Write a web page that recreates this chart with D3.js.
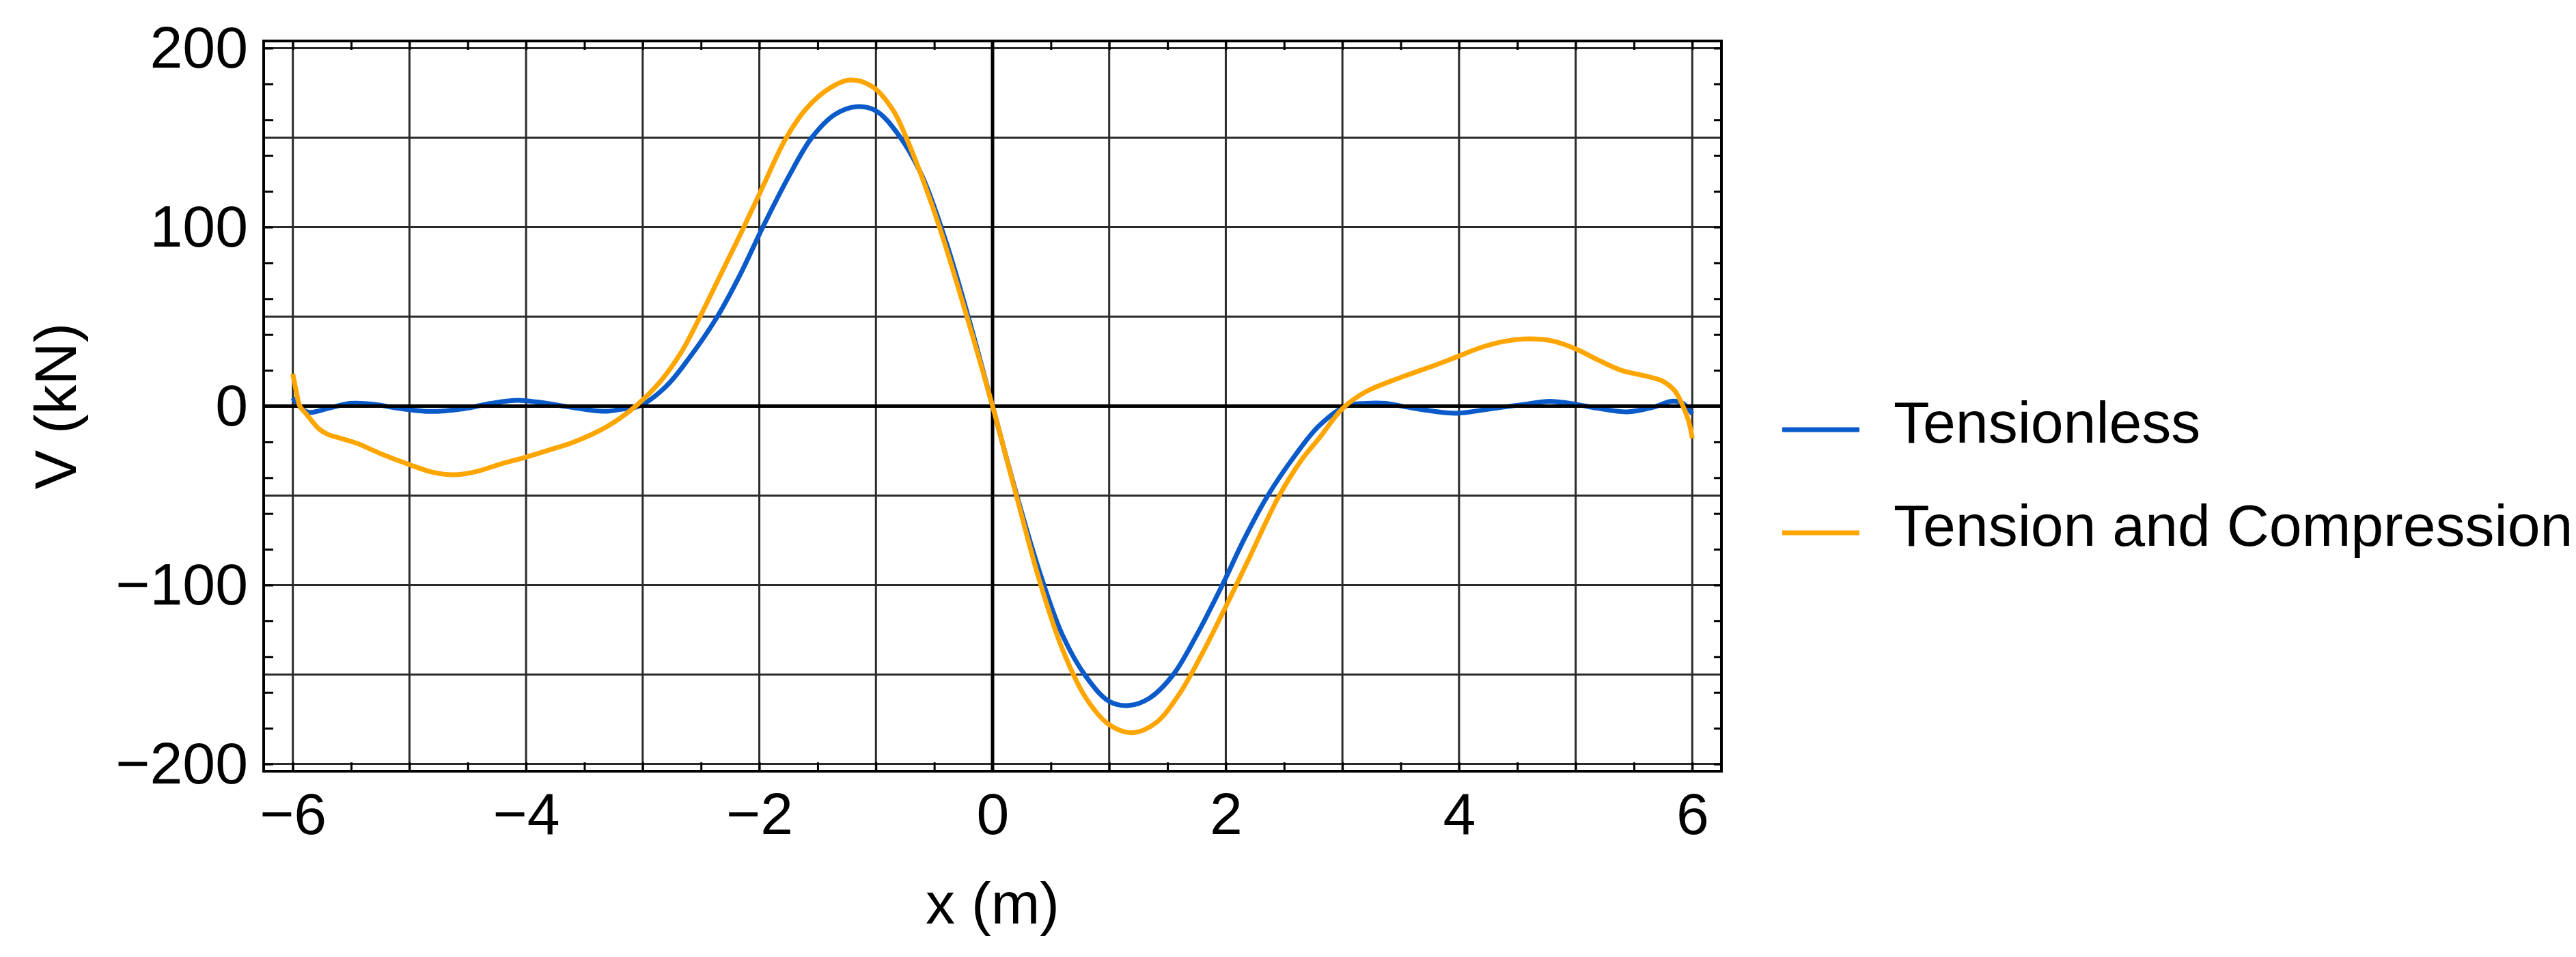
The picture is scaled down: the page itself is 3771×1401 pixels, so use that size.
<!DOCTYPE html>
<html>
<head>
<meta charset="utf-8">
<script src="https://cdn.jsdelivr.net/npm/d3@7"></script>
<style>
  body { margin: 0; background: #fff; }
  svg { display: block; font-family: "Liberation Sans", Arial, sans-serif; }
</style>
</head>
<body>
<svg></svg>
<script>
let width = 3771, height = 1401;

// shear force V (kN) along x (m)
const tensionlessX = [-6, -5.93, -5.86, -5.71, -5.51, -5.3, -5.12, -4.83, -4.54, -4.3,
  -4.07, -3.85, -3.64, -3.33, -3.17, -3.03, -2.8, -2.6, -2.36, -2.16,
  -1.97, -1.75, -1.55, -1.35, -1.17, -1.0, -0.8, -0.6, -0.4, -0.2,
  0, 0.2, 0.4, 0.6, 0.8, 1.0, 1.17, 1.35, 1.55, 1.75,
  1.97, 2.16, 2.36, 2.6, 2.8, 3.03, 3.2, 3.37, 3.55, 3.72,
  3.98, 4.25, 4.54, 4.78, 5.0, 5.19, 5.44, 5.67, 5.82, 5.92,
  6];
const tensionlessV = [4.7, -1, -3.5, -1.5, 1.5, 1, -1, -3, -1.5, 1.5,
  3.2, 1.8, -0.4, -2.9, -1.6, 0, 11, 27, 50, 74,
  100, 128, 150, 163, 167.3, 165, 151, 128, 92, 48,
  0, -48, -92, -128, -151, -165, -167.3, -163, -150, -128,
  -100, -74, -50, -27, -11, 0, 1.5, 1.5, -0.5, -2.3,
  -4, -1.7, 0.8, 2.7, 1, -1.2, -3.2, -0.5, 2.7, 1.5,
  -4.4];

const tensionCompX = [-6, -5.97, -5.94, -5.89, -5.84, -5.78, -5.7, -5.6, -5.45, -5.25,
  -5.0, -4.8, -4.62, -4.44, -4.2, -4.0, -3.8, -3.6, -3.35, -3.2,
  -3.06, -2.86, -2.67, -2.51, -2.32, -2.14, -1.96, -1.78, -1.6, -1.4,
  -1.22, -1.02, -0.85, -0.74, -0.6, -0.45, -0.22, 0, 0.2, 0.4,
  0.6, 0.8, 1.0, 1.2, 1.4, 1.6, 1.8, 2.0, 2.2, 2.45,
  2.65, 2.8, 3.0, 3.2, 3.5, 3.8, 4.0, 4.2, 4.4, 4.6,
  4.8, 5.0, 5.2, 5.4, 5.6, 5.75, 5.85, 5.92, 5.97, 6];
const tensionCompV = [18, 8, 0, -4, -8, -12.5, -15.8, -17.8, -20.8, -26.5,
  -32.7, -37, -38.4, -36.8, -32, -28.5, -24.5, -20.3, -13, -7,
  0, 12.9, 30, 49.7, 75, 99, 124, 148.7, 166, 177.5,
  182.2, 178, 165, 150, 127, 99, 50, 0, -49, -97,
  -136, -163, -178, -182.5, -177, -161, -138, -112, -85, -51,
  -30, -18, -1.4, 8, 16, 23, 28, 33, 36.3, 37.6,
  36.4, 32, 25.5, 19.8, 16.8, 13.8, 8.5, 0, -8.6, -18];

const seriesNames = ["Tensionless", "Tension and Compression"];
const seriesColors = ["#0a5bc9", "#ffa500"];

const xTickLabels = [-6, -4, -2, 0, 2, 4, 6];
const yTickLabels = [-200, -100, 0, 100, 200];

let svg = d3.select("svg")
    .attr("width", width)
    .attr("height", height)
    .attr("viewBox", "0 0 " + width + " " + height);

let x = d3.scaleLinear().domain([-6.25, 6.25]).range([386, 2520]);
let y = d3.scaleLinear().domain([-204, 204]).range([1129, 60]);

let plotLeft = x.range()[0], plotRight = x.range()[1];
let plotTop = y.range()[1], plotBottom = y.range()[0];

const fmt = d => d < 0 ? "\u2212" + Math.abs(d) : "" + d;

// grid: every 1 m and every 50 kN
svg.append("g")
    .selectAll("line")
    .data(d3.range(-6, 7, 1))
    .enter()
    .append("line")
    .attr("x1", d => x(d)).attr("x2", d => x(d))
    .attr("y1", plotTop).attr("y2", plotBottom)
    .attr("stroke", "#2b2b2b")
    .attr("stroke-width", 3);

svg.append("g")
    .selectAll("line")
    .data(d3.range(-200, 201, 50))
    .enter()
    .append("line")
    .attr("x1", plotLeft).attr("x2", plotRight)
    .attr("y1", d => y(d)).attr("y2", d => y(d))
    .attr("stroke", "#2b2b2b")
    .attr("stroke-width", 3);

// frame ticks (inward)
let xMinor = d3.range(-6, 6.01, 0.5);
let yMinor = d3.range(-200, 201, 20);

function plainTicks(g) {
    g.select(".domain").remove();
    g.selectAll(".tick line").attr("stroke", "#000").attr("stroke-width", 3);
}

svg.append("g")
    .attr("transform", "translate(0," + plotBottom + ")")
    .call(d3.axisBottom(x).tickValues(xMinor).tickSize(-13).tickFormat(""))
    .call(plainTicks);
svg.append("g")
    .attr("transform", "translate(0," + plotTop + ")")
    .call(d3.axisTop(x).tickValues(xMinor).tickSize(-13).tickFormat(""))
    .call(plainTicks);
svg.append("g")
    .attr("transform", "translate(" + plotLeft + ",0)")
    .call(d3.axisLeft(y).tickValues(yMinor).tickSize(-14).tickFormat(""))
    .call(plainTicks);
svg.append("g")
    .attr("transform", "translate(" + plotRight + ",0)")
    .call(d3.axisRight(y).tickValues(yMinor).tickSize(-11).tickFormat(""))
    .call(plainTicks);

// tick labels
let xAxis = svg.append("g")
    .attr("transform", "translate(0," + plotBottom + ")")
    .call(d3.axisBottom(x).tickValues(xTickLabels).tickSize(0).tickPadding(31).tickFormat(fmt));
xAxis.select(".domain").remove();
xAxis.selectAll("text").attr("font-size", 86).attr("fill", "#000")
    .attr("font-family", "Liberation Sans, Arial, sans-serif");

let yAxis = svg.append("g")
    .attr("transform", "translate(" + plotLeft + ",0)")
    .call(d3.axisLeft(y).tickValues(yTickLabels).tickSize(0).tickPadding(23).tickFormat(fmt));
yAxis.select(".domain").remove();
yAxis.selectAll("text").attr("font-size", 86).attr("fill", "#000")
    .attr("font-family", "Liberation Sans, Arial, sans-serif");

let line = d3.line()
    .x(d => x(d[0]))
    .y(d => y(d[1]))
    .curve(d3.curveCatmullRom.alpha(0.5));

let series = [
    d3.zip(tensionlessX, tensionlessV),
    d3.zip(tensionCompX, tensionCompV)
];

// blue first, then the black axes, then orange on top
svg.append("path")
    .datum(series[0])
    .attr("fill", "none")
    .attr("stroke", seriesColors[0])
    .attr("stroke-width", 7)
    .attr("stroke-linejoin", "round")
    .attr("d", line);

svg.append("line")
    .attr("x1", plotLeft).attr("x2", plotRight)
    .attr("y1", y(0)).attr("y2", y(0))
    .attr("stroke", "#000").attr("stroke-width", 5);
svg.append("line")
    .attr("x1", x(0)).attr("x2", x(0))
    .attr("y1", plotTop).attr("y2", plotBottom)
    .attr("stroke", "#000").attr("stroke-width", 5);

svg.append("path")
    .datum(series[1])
    .attr("fill", "none")
    .attr("stroke", seriesColors[1])
    .attr("stroke-width", 7)
    .attr("stroke-linejoin", "round")
    .attr("d", line);

// frame
svg.append("rect")
    .attr("x", plotLeft).attr("y", plotTop)
    .attr("width", plotRight - plotLeft).attr("height", plotBottom - plotTop)
    .attr("fill", "none")
    .attr("stroke", "#000")
    .attr("stroke-width", 4);

// axis titles
svg.append("text")
    .attr("x", (plotLeft + plotRight) / 2)
    .attr("y", 1352)
    .attr("text-anchor", "middle")
    .attr("font-size", 86)
    .text("x (m)");

svg.append("text")
    .attr("transform", "translate(111," + (plotTop + plotBottom) / 2 + ") rotate(-90)")
    .attr("text-anchor", "middle")
    .attr("font-size", 86)
    .text("V (kN)");

// legend
let legend = svg.append("g")
    .selectAll("g")
    .data(seriesNames)
    .enter()
    .append("g")
    .attr("transform", (d, i) => "translate(2609," + (629 + i * 151) + ")");

legend.append("line")
    .attr("x1", 0).attr("x2", 113)
    .attr("stroke", (d, i) => seriesColors[i])
    .attr("stroke-width", 7);

legend.append("text")
    .attr("x", 163)
    .attr("y", 19)
    .attr("font-size", 86)
    .text(d => d);
</script>
</body>
</html>
